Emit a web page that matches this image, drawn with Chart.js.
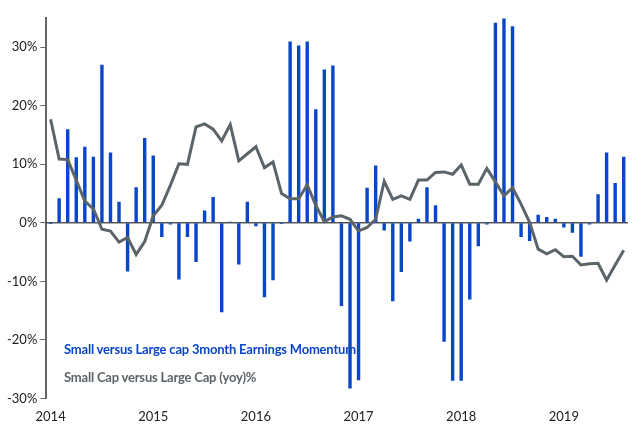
<!DOCTYPE html>
<html>
<head>
<meta charset="utf-8">
<script src="https://cdn.jsdelivr.net/npm/chart.js@4.4.1/dist/chart.umd.min.js"></script>
<style>
body { margin: 0; background: #fff; }
#wrap { position: relative; width: 642px; height: 442px; }
.lg { position: absolute; left: 64px; font: bold 13px Lato, "Open Sans", sans-serif; letter-spacing: -0.2px; }
</style>
</head>
<body>
<div id="wrap">
<canvas id="c" width="642" height="442"></canvas>
<div class="lg" style="top:341px;color:#0a47c8">Small versus Large cap 3month Earnings Momentum</div>
<div class="lg" style="top:369px;color:#5b6468">Small Cap versus Large Cap (yoy)%</div>
</div>
<script>
// monthly, Jan 2014 - Aug 2019
var years = ['2014', '2015', '2016', '2017', '2018', '2019'];
var momentum = [
    -0.2, 4.2, 16.0, 11.2, 13.0, 11.3, 27.0, 12.0, 3.6, -8.3, 6.1, 14.5,
    11.5, -2.4, -0.3, -9.7, -2.4, -6.7, 2.1, 4.4, -15.3, 0.2, -7.1, 3.6,
    -0.6, -12.7, -9.8, -0.2, 31.0, 30.3, 31.0, 19.4, 26.2, 26.9, -14.2, -28.3,
    -26.9, 6.0, 9.8, -1.3, -13.4, -8.4, -3.2, 0.7, 6.1, 3.0, -20.3, -27.0,
    -27.0, -13.1, -4.0, -0.3, 34.2, 34.9, 33.6, -2.4, -3.1, 1.4, 1.0, 0.7,
    -0.8, -1.7, -5.8, -0.3, 4.9, 12.0, 6.8, 11.3
];
var yoy = [
    17.7, 10.9, 10.8, 7.3, 3.7, 2.4, -1.1, -1.4, -3.3, -2.5, -5.4, -3.2,
    1.2, 3.0, 6.4, 10.1, 10.0, 16.4, 16.9, 16.0, 14.0, 16.8, 10.6, 11.8,
    13.0, 9.4, 10.4, 5.0, 4.1, 4.1, 6.5, 3.0, 0.2, 1.0, 1.2, 0.6,
    -1.4, -0.8, 0.6, 7.1, 4.0, 4.6, 4.0, 7.3, 7.3, 8.6, 8.7, 8.3,
    9.9, 6.6, 6.6, 9.3, 7.0, 4.6, 6.0, 3.2, 0.1, -4.5, -5.3, -4.6,
    -5.8, -5.7, -7.2, -7.0, -6.9, -9.8, -7.2, -4.7
];

var labels = momentum.map(function (v, i) {
    return i % 12 === 0 ? years[i / 12] : '';
});

var zeroLine = {
    id: 'zeroLine',
    beforeDatasetsDraw: function (chart) {
        var ctx = chart.ctx, y = chart.scales.y.getPixelForValue(0);
        ctx.save();
        ctx.strokeStyle = '#000';
        ctx.lineWidth = 1;
        ctx.beginPath();
        ctx.moveTo(chart.chartArea.left, y);
        ctx.lineTo(chart.chartArea.right, y);
        ctx.stroke();
        ctx.restore();
    }
};

new Chart(document.getElementById('c'), {
    data: {
        labels: labels,
        datasets: [{
            type: 'line',
            data: yoy,
            borderColor: '#5b6468',
            borderWidth: 3,
            pointRadius: 0,
            tension: 0,
            order: 0
        }, {
            type: 'bar',
            data: momentum,
            backgroundColor: '#0a47c8',
            barPercentage: 0.4,
            categoryPercentage: 1,
            order: 1
        }]
    },
    options: {
        responsive: false,
        animation: false,
        layout: { padding: { left: 4, right: 14, top: 18, bottom: 14 } },
        plugins: { legend: { display: false }, tooltip: { enabled: false } },
        scales: {
            x: {
                grid: { display: false },
                border: { display: false },
                ticks: {
                    autoSkip: false, maxRotation: 0, color: '#222',
                    font: { family: 'Lato, "Open Sans", sans-serif', size: 13 }
                }
            },
            y: {
                min: -30,
                max: 35,
                afterBuildTicks: function (axis) {
                    axis.ticks = [-30, -20, -10, 0, 10, 20, 30].map(function (v) { return { value: v }; });
                },
                grid: { display: true, drawOnChartArea: false, drawTicks: true, tickLength: 6, color: '#666' },
                border: { display: true, color: '#666', width: 2 },
                ticks: {
                    color: '#222',
                    font: { family: 'Lato, "Open Sans", sans-serif', size: 13 },
                    callback: function (v) { return v + '%'; }
                }
            }
        }
    },
    plugins: [zeroLine]
});
</script>
</body>
</html>
